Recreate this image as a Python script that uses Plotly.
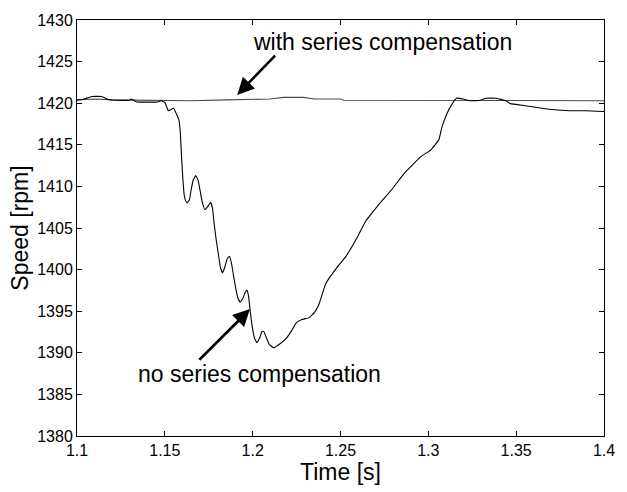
import plotly.graph_objects as go

# Motor speed after a disturbance, with and without series compensation
t_no = [1.100, 1.104, 1.1084, 1.114, 1.118, 1.122, 1.130, 1.131, 1.134, 1.146,
        1.148, 1.150, 1.152, 1.155, 1.1566, 1.158, 1.1588, 1.1595, 1.1603, 1.161,
        1.162, 1.1627, 1.164, 1.165, 1.1662, 1.1676, 1.169, 1.170, 1.1712, 1.1728,
        1.1745, 1.1761, 1.1772, 1.178, 1.1793, 1.1805, 1.1817, 1.1828, 1.184, 1.1855,
        1.1868, 1.188, 1.189, 1.1905, 1.1917, 1.1929, 1.1945, 1.1958, 1.1968, 1.1978,
        1.1985, 1.1995, 1.201, 1.2024, 1.204, 1.2052, 1.2063, 1.2078, 1.2095, 1.2119,
        1.215, 1.219, 1.222, 1.2248, 1.228, 1.232, 1.235, 1.2377, 1.2416, 1.2489,
        1.2528, 1.2601, 1.264, 1.2713, 1.2791, 1.2864, 1.2959, 1.3015, 1.306, 1.3077,
        1.3105, 1.3132, 1.316, 1.320, 1.3239, 1.3295, 1.3328, 1.3384, 1.344, 1.3468,
        1.3552, 1.3675, 1.380, 1.390, 1.400]
rpm_no = [1420.35, 1420.5, 1420.8, 1420.8, 1420.45, 1420.35, 1420.35, 1420.5, 1420.15, 1420.15,
          1420.3, 1420.1, 1419.1, 1419.4, 1418.7, 1418.0, 1416.5, 1413.6, 1410.8, 1409.0,
          1408.2, 1408.0, 1408.4, 1409.6, 1410.8, 1411.3, 1410.7, 1409.6, 1408.2, 1407.2,
          1407.6, 1408.1, 1407.3, 1405.6, 1403.5, 1401.8, 1400.2, 1399.6, 1400.2, 1401.3,
          1401.6, 1400.7, 1399.4, 1397.6, 1396.5, 1396.1, 1396.6, 1397.3, 1397.5, 1396.6,
          1395.2, 1393.5, 1391.8, 1391.2, 1391.8, 1392.5, 1392.6, 1391.8, 1391.0, 1390.6,
          1391.0, 1391.7, 1392.6, 1393.6, 1394.0, 1394.2, 1394.8, 1395.8, 1398.3, 1400.5,
          1401.5, 1404.1, 1405.7, 1407.7, 1409.6, 1411.6, 1413.6, 1414.4, 1415.6, 1417.1,
          1418.7, 1419.8, 1420.6, 1420.5, 1420.3, 1420.35, 1420.6, 1420.6, 1420.3, 1419.95,
          1419.7, 1419.3, 1419.1, 1419.1, 1419.0]

t_with = [1.100, 1.110, 1.120, 1.150, 1.165, 1.185, 1.210, 1.2175, 1.229, 1.235,
          1.250, 1.252, 1.300, 1.350, 1.400]
rpm_with = [1420.4, 1420.5, 1420.4, 1420.35, 1420.3, 1420.4, 1420.5, 1420.7, 1420.7, 1420.5,
            1420.5, 1420.35, 1420.35, 1420.35, 1420.3]

x_ticks = [1.1, 1.15, 1.2, 1.25, 1.3, 1.35, 1.4]
x_tick_text = ["1.1", "1.15", "1.2", "1.25", "1.3", "1.35", "1.4"]
y_ticks = [1380, 1385, 1390, 1395, 1400, 1405, 1410, 1415, 1420, 1425, 1430]

FONT = "Arial, Liberation Sans, Helvetica, sans-serif"

fig = go.Figure()
fig.add_trace(go.Scatter(x=t_with, y=rpm_with, mode="lines",
                         line=dict(color="#4a4a4a", width=1.1), showlegend=False))
fig.add_trace(go.Scatter(x=t_no, y=rpm_no, mode="lines",
                         line=dict(color="black", width=1.1, shape="spline", smoothing=0.3),
                         showlegend=False))

fig.add_annotation(x=1.2740, y=1427.4, text="with series compensation", showarrow=False,
                   font=dict(family=FONT, size=23, color="black"))
fig.add_annotation(x=1.1912, y=1421.0, ax=1.2136, ay=1425.9, axref="x", ayref="y",
                   xref="x", yref="y", text="", showarrow=True, arrowhead=2,
                   arrowsize=1.3, arrowwidth=2.6, arrowcolor="black")
fig.add_annotation(x=1.2040, y=1387.45, text="no series compensation", showarrow=False,
                   font=dict(family=FONT, size=23, color="black"))
fig.add_annotation(x=1.1985, y=1395.25, ax=1.1688, ay=1388.98, axref="x", ayref="y",
                   xref="x", yref="y", text="", showarrow=True, arrowhead=2,
                   arrowsize=1.3, arrowwidth=2.6, arrowcolor="black")

axis_common = dict(showgrid=False, zeroline=False, showline=True, linecolor="black",
                   linewidth=1, mirror="ticks", ticks="inside", ticklen=5,
                   tickcolor="black", tickfont=dict(family=FONT, size=16, color="black"))

fig.update_xaxes(range=[1.1, 1.4], tickvals=x_ticks, ticktext=x_tick_text,
                 title=dict(text="Time [s]", font=dict(family=FONT, size=23, color="black"),
                            standoff=4),
                 **axis_common)
fig.update_yaxes(range=[1380, 1430], tickvals=y_ticks,
                 title=dict(text="Speed [rpm]", font=dict(family=FONT, size=23, color="black"),
                            standoff=2),
                 **axis_common)

fig.update_layout(width=627, height=492, margin=dict(l=77, r=14, t=13, b=56),
                  paper_bgcolor="white", plot_bgcolor="white")

fig.write_html("out.html")
